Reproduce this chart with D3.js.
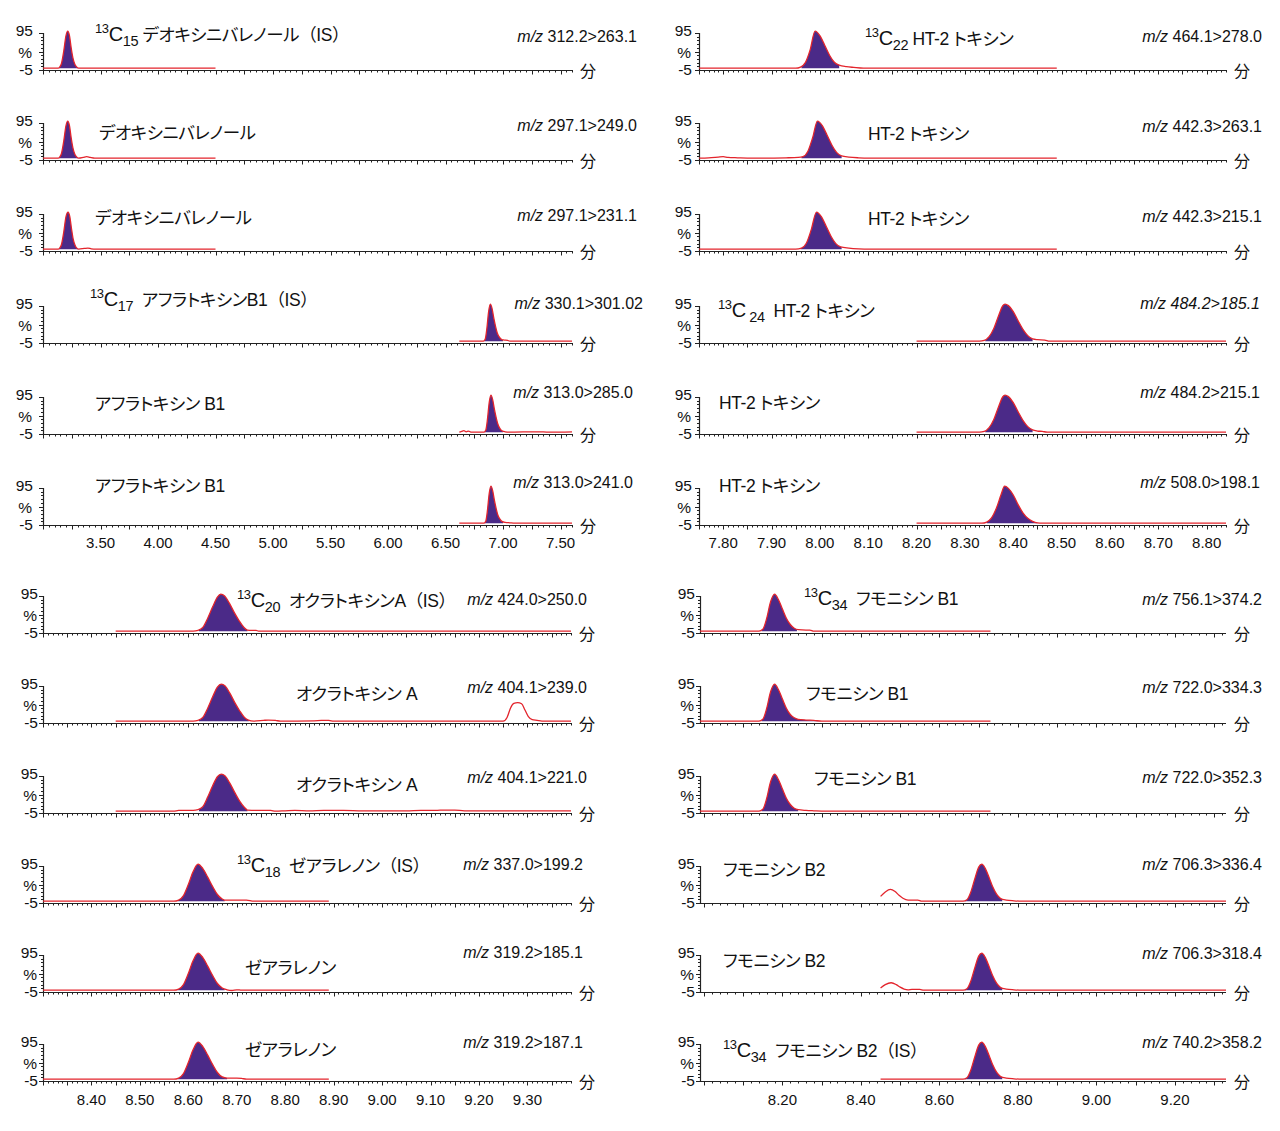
<!DOCTYPE html>
<html><head><meta charset="utf-8">
<script src="https://cdn.jsdelivr.net/npm/d3@7"></script>
<style>
body{margin:0;background:#fff;}
svg{display:block;font-family:"Liberation Sans",Arial,"Noto Sans CJK JP",sans-serif;}
text{white-space:pre;}
.nm{font-feature-settings:"palt";letter-spacing:-0.4px;}
.fw{font-feature-settings:normal;}
</style></head><body>
<svg id="c" width="1280" height="1131"></svg>
<script>
// ================= DATA =================
const ticksTL = ["3.50","4.00","4.50","5.00","5.50","6.00","6.50","7.00","7.50"];
const ticksTR = ["7.80","7.90","8.00","8.10","8.20","8.30","8.40","8.50","8.60","8.70","8.80"];
const ticksBL = ["8.40","8.50","8.60","8.70","8.80","8.90","9.00","9.10","9.20","9.30"];
const ticksBR = ["8.20","8.40","8.60","8.80","9.00","9.20"];
const yTickLabels = ["95","%","-5"];
const yTickValues = [95, 45, -5];
const timeUnit = "分";

const namesTL = ["^{13}C_{15} デオキシニバレノール（IS）","デオキシニバレノール","デオキシニバレノール","^{13}C_{17}  アフラトキシンB1（IS）","アフラトキシン B1","アフラトキシン B1"];
const mzTL = ["312.2>263.1","297.1>249.0","297.1>231.1","330.1>301.02","313.0>285.0","313.0>241.0"];
const namesTR = ["^{13}C_{22} HT-2 トキシン","HT-2 トキシン","HT-2 トキシン","^{13}C_{ 24}  HT-2 トキシン","HT-2 トキシン","HT-2 トキシン"];
const mzTR = ["464.1>278.0","442.3>263.1","442.3>215.1","484.2>185.1","484.2>215.1","508.0>198.1"];
const namesBL = ["^{13}C_{20}  オクラトキシンA（IS）","オクラトキシン A","オクラトキシン A","^{13}C_{18}  ゼアラレノン（IS）","ゼアラレノン","ゼアラレノン"];
const mzBL = ["424.0>250.0","404.1>239.0","404.1>221.0","337.0>199.2","319.2>185.1","319.2>187.1"];
const namesBR = ["^{13}C_{34}  フモニシン B1","フモニシン B1","フモニシン B1","フモニシン B2","フモニシン B2","^{13}C_{34}  フモニシン B2（IS）"];
const mzBR = ["756.1>374.2","722.0>334.3","722.0>352.3","706.3>336.4","706.3>318.4","740.2>358.2"];

// traces: [time (min), intensity (%)]
const trDON13 = [[3.00,0],[3.13,0],[3.145,3],[3.16,12],[3.18,45],[3.20,88],[3.215,100],[3.23,88],[3.245,55],[3.26,28],[3.275,12],[3.29,4],[3.31,0],[4.50,0]];
const trDONa  = [[3.00,0],[3.13,0],[3.145,3],[3.16,12],[3.18,45],[3.20,88],[3.215,100],[3.23,88],[3.245,55],[3.26,28],[3.275,12],[3.29,4],[3.31,0],[3.35,2],[3.38,4],[3.41,2],[3.45,0],[4.50,0]];
const trDONb  = [[3.00,0],[3.13,0],[3.145,3],[3.16,12],[3.18,45],[3.20,88],[3.218,100],[3.233,88],[3.248,55],[3.262,28],[3.277,12],[3.29,4],[3.31,0],[3.36,2],[3.39,3],[3.42,1],[3.46,0],[4.50,0]];
const trAFB13 = [[6.62,0],[6.83,0],[6.845,5],[6.86,35],[6.875,80],[6.89,100],[6.905,88],[6.92,62],[6.935,40],[6.95,22],[6.97,10],[6.99,4],[7.01,3],[7.04,2],[7.06,0],[7.60,0]];
const trAFBa  = [[6.62,0],[6.64,2],[6.66,4],[6.68,1],[6.70,3],[6.72,0],[6.835,0],[6.85,5],[6.865,35],[6.88,80],[6.895,100],[6.91,88],[6.925,62],[6.94,40],[6.955,22],[6.975,9],[6.995,3],[7.02,1],[7.05,0],[7.30,1],[7.40,0],[7.60,1]];
const trAFBb  = [[6.62,0],[6.835,0],[6.85,5],[6.865,35],[6.88,80],[6.895,100],[6.91,88],[6.925,62],[6.94,40],[6.955,22],[6.975,10],[6.995,4],[7.02,2],[7.06,1],[7.10,0],[7.60,0]];

const trHT13a = [[7.75,0],[7.95,0],[7.96,3],[7.97,15],[7.98,50],[7.99,100],[8.00,88],[8.01,62],[8.02,35],[8.03,16],[8.04,8],[8.055,4],[8.07,2],[8.09,0],[8.49,0]];
const trHTa   = [[7.75,0],[7.77,1],[7.79,3],[7.80,4],[7.81,2],[7.83,1],[7.86,0],[7.93,1],[7.955,2],[7.965,4],[7.975,18],[7.985,55],[7.995,100],[8.005,88],[8.015,62],[8.025,35],[8.035,15],[8.045,6],[8.06,3],[8.08,1],[8.10,0],[8.49,0]];
const trHTb   = [[7.75,0],[7.95,0],[7.962,3],[7.972,16],[7.982,52],[7.993,100],[8.003,88],[8.013,62],[8.023,35],[8.033,15],[8.043,6],[8.06,3],[8.08,1],[8.10,0],[8.49,0]];
const trHT13b = [[8.20,0],[8.33,0],[8.34,2],[8.35,12],[8.36,35],[8.37,70],[8.378,95],[8.383,100],[8.39,96],[8.40,80],[8.41,55],[8.42,32],[8.43,15],[8.44,6],[8.45,4],[8.465,3],[8.475,0],[8.84,0]];
const trHTc   = [[8.20,0],[8.33,0],[8.34,2],[8.35,12],[8.36,35],[8.37,70],[8.378,95],[8.383,100],[8.39,96],[8.40,80],[8.41,55],[8.42,32],[8.43,15],[8.44,6],[8.45,3],[8.46,2],[8.47,0],[8.84,0]];
const trHTd   = [[8.20,0],[8.335,0],[8.345,3],[8.355,14],[8.365,40],[8.375,78],[8.382,100],[8.39,94],[8.40,76],[8.41,50],[8.42,28],[8.43,13],[8.44,5],[8.45,1],[8.46,0],[8.84,0]];

const trOTA13 = [[8.45,0],[8.61,0],[8.62,2],[8.63,10],[8.64,35],[8.65,65],[8.66,92],[8.667,100],[8.675,95],[8.685,75],[8.695,50],[8.705,28],[8.715,10],[8.722,3],[8.73,2],[8.74,2],[8.745,0],[9.39,0]];
const trOTAa  = [[8.45,0],[8.61,0],[8.62,2],[8.63,10],[8.64,35],[8.65,65],[8.66,92],[8.668,100],[8.676,95],[8.686,75],[8.696,50],[8.706,28],[8.716,10],[8.724,3],[8.735,0],[8.755,2],[8.765,3],[8.78,2],[8.79,0],[8.86,1],[8.875,2],[8.89,2],[8.90,0],[9.25,0],[9.258,10],[9.265,35],[9.272,48],[9.28,50],[9.288,47],[9.295,30],[9.302,12],[9.31,4],[9.32,2],[9.33,0],[9.39,0]];
const trOTAb  = [[8.45,0],[8.57,0],[8.58,2],[8.61,2],[8.62,4],[8.63,12],[8.64,38],[8.65,68],[8.66,93],[8.668,100],[8.676,95],[8.686,75],[8.696,50],[8.706,27],[8.716,10],[8.722,3],[8.74,2],[8.77,2],[8.78,0],[8.80,1],[8.82,2],[8.85,1],[8.88,2],[8.92,2],[8.96,1],[9.00,1],[9.05,1],[9.08,2],[9.11,2],[9.13,3],[9.15,3],[9.17,1],[9.22,1],[9.26,1],[9.39,1]];
const trZEN13 = [[8.30,0],[8.57,0],[8.58,3],[8.59,15],[8.60,45],[8.61,80],[8.62,100],[8.63,88],[8.64,65],[8.65,40],[8.66,18],[8.67,6],[8.675,3],[8.70,3],[8.72,3],[8.735,0],[8.89,0]];
const trZENa  = [[8.30,0],[8.57,0],[8.58,3],[8.59,15],[8.60,45],[8.61,80],[8.62,100],[8.63,88],[8.64,65],[8.65,40],[8.66,18],[8.67,6],[8.68,1],[8.69,-1],[8.70,1],[8.71,0],[8.89,0]];
const trZENb  = [[8.30,0],[8.57,0],[8.58,3],[8.59,15],[8.60,45],[8.61,80],[8.62,100],[8.63,88],[8.64,65],[8.65,40],[8.66,18],[8.67,6],[8.68,3],[8.70,3],[8.71,2],[8.72,0],[8.89,0]];

const trFB13  = [[7.99,0],[8.14,0],[8.15,5],[8.16,35],[8.17,80],[8.18,100],[8.19,85],[8.20,60],[8.21,35],[8.22,18],[8.23,8],[8.24,4],[8.26,3],[8.27,3],[8.28,0],[8.73,0]];
const trFB1a  = [[7.99,0],[8.14,0],[8.15,5],[8.16,35],[8.17,80],[8.18,100],[8.19,85],[8.20,60],[8.21,35],[8.22,18],[8.23,9],[8.24,5],[8.26,3],[8.28,2],[8.30,0],[8.73,0]];
const trFB1b  = [[7.99,0],[8.14,0],[8.15,5],[8.16,35],[8.17,80],[8.18,100],[8.19,85],[8.20,60],[8.21,35],[8.22,18],[8.23,8],[8.24,4],[8.26,2],[8.28,1],[8.31,0],[8.73,0]];
const trFB2a  = [[8.45,13],[8.462,25],[8.475,32],[8.487,26],[8.497,16],[8.507,8],[8.52,3],[8.53,3],[8.545,3],[8.555,0],[8.66,0],[8.67,4],[8.68,25],[8.69,60],[8.70,92],[8.708,100],[8.716,90],[8.726,65],[8.736,38],[8.746,18],[8.756,7],[8.77,3],[8.79,1],[8.81,0],[9.33,0]];
const trFB2b  = [[8.45,6],[8.462,15],[8.477,20],[8.49,15],[8.50,8],[8.51,3],[8.52,1],[8.53,2],[8.55,2],[8.56,0],[8.66,0],[8.67,4],[8.68,25],[8.69,60],[8.70,92],[8.708,100],[8.716,90],[8.726,65],[8.736,38],[8.746,18],[8.756,7],[8.77,3],[8.79,1],[8.81,0],[9.33,0]];
const trFB213 = [[8.45,0],[8.66,0],[8.67,4],[8.68,25],[8.69,60],[8.70,92],[8.708,100],[8.716,90],[8.726,65],[8.736,38],[8.746,18],[8.756,7],[8.77,3],[8.79,1],[8.81,0],[9.33,0]];

// integrated (filled) ranges for each trace
const fillTL = [[3.135,3.31],[3.135,3.31],[3.135,3.31],[6.84,7.00],[6.84,7.00],[6.84,7.00]];
const fillTR = [[7.962,8.04],[7.962,8.045],[7.96,8.045],[8.342,8.44],[8.342,8.44],[8.345,8.45]];
const fillBL = [[8.622,8.722],[8.622,8.725],[8.622,8.722],[8.578,8.675],[8.578,8.675],[8.578,8.68]];
const fillBR = [[8.147,8.237],[8.147,8.30],[8.147,8.24],[8.665,8.76],[8.665,8.76],[8.665,8.76]];

// ================= LAYOUT =================
const panels = [
  {x0:43, x1:572, domain:[3.0,7.6], rows:[70,160,251,343,434,525], ticks:ticksTL, major:0.25, minor:0.05, tickY:548, ygap:10,
   names:namesTL, mz:mzTL, traces:[trDON13,trDONa,trDONb,trAFB13,trAFBa,trAFBb], fills:fillTL,
   nameXY:[[95,41],[99,139],[95,224],[90,306],[95,410],[95,492]], mzXY:[[637,42],[637,131],[637,221],[643,309],[633,398],[633,488]], mzItal:[0,0,0,0,0,0]},
  {x0:699, x1:1226, domain:[7.75,8.84], rows:[70,160,251,343,434,525], ticks:ticksTR, major:0.05, minor:0.01, tickY:548, ygap:7,
   names:namesTR, mz:mzTR, traces:[trHT13a,trHTa,trHTb,trHT13b,trHTc,trHTd], fills:fillTR,
   nameXY:[[865,45],[868,140],[868,225],[718,317],[719,409],[719,492]], mzXY:[[1262,42],[1262,132],[1262,222],[1260,309],[1260,398],[1260,488]], mzItal:[0,0,0,1,0,0]},
  {x0:43, x1:571, domain:[8.30,9.39], rows:[633,723,813,903,992,1081], ticks:ticksBL, major:0.05, minor:0.01, tickY:1105, ygap:5,
   names:namesBL, mz:mzBL, traces:[trOTA13,trOTAa,trOTAb,trZEN13,trZENa,trZENb], fills:fillBL,
   nameXY:[[237,607],[296,700],[296,791],[237,872],[245,974],[245,1056]], mzXY:[[587,605],[587,693],[587,783],[583,870],[583,958],[583,1048]], mzItal:[0,0,0,0,0,0]},
  {x0:700, x1:1226, domain:[7.99,9.33], rows:[633,723,813,903,992,1081], ticks:ticksBR, major:0.1, minor:0.02, tickY:1105, ygap:5,
   names:namesBR, mz:mzBR, traces:[trFB13,trFB1a,trFB1b,trFB2a,trFB2b,trFB213], fills:fillBR,
   nameXY:[[804,605],[806,700],[814,785],[723,876],[723,967],[723,1057]], mzXY:[[1262,605],[1262,693],[1262,783],[1262,870],[1262,959],[1262,1048]], mzItal:[0,0,0,0,0,0]}
];
const PURPLE = "#4b2a88", RED = "#e3242c", AXIS = "#222";
const yPix = 37; // pixels per 100 %
const NAME_FS = 17.5;

const svg = d3.select("#c");
const defs = svg.append("defs");
let clipId = 0;

function addPlain(t, txt, dy, size) {
  // full-width brackets keep their normal (wide) metrics
  const parts = txt.split(/([（）])/).filter(s => s.length);
  parts.forEach((s, i) => {
    const sp = t.append("tspan").attr("font-size", size).text(s);
    if (i === 0) sp.attr("dy", dy);
    if (s === "（" || s === "）") sp.attr("class", "fw");
  });
}

function drawName(g, str, x, y) {
  const t = g.append("text").attr("class", "nm").attr("x", x).attr("y", y).attr("font-size", NAME_FS).attr("fill", "#111");
  const re = /\^\{([^}]*)\}|_\{([^}]*)\}|([^^_]+)/g;
  let m, cur = 0, afterSup = false;
  while ((m = re.exec(str))) {
    if (m[1] !== undefined) {
      t.append("tspan").attr("dy", -8 - cur).attr("font-size", 13).text(m[1]); cur = -8; afterSup = true;
    } else if (m[2] !== undefined) {
      t.append("tspan").attr("dy", 5 - cur).attr("font-size", 14.5).text(m[2]); cur = 5;
    } else {
      let txt = m[3];
      if (afterSup) { // the "C" of the isotope label
        t.append("tspan").attr("dy", 0 - cur).attr("font-size", 20).text(txt[0]);
        cur = 0; afterSup = false; txt = txt.slice(1);
        if (!txt) continue;
      }
      addPlain(t, txt, 0 - cur, NAME_FS);
      cur = 0;
    }
  }
}

panels.forEach(p => {
  const x = d3.scaleLinear().domain(p.domain).range([p.x0, p.x1]);
  const n0 = Math.ceil(p.domain[0] / p.minor - 1e-6), n1 = Math.floor(p.domain[1] / p.minor + 1e-6);
  const minorTicks = d3.range(n0, n1 + 1).map(i => i * p.minor);
  p.rows.forEach((ay, r) => {
    const y = d3.scaleLinear().domain([-5, 95]).range([ay, ay - yPix]);
    const g = svg.append("g");
    // x axis
    g.append("line").attr("x1", p.x0).attr("x2", p.x1).attr("y1", ay + 0.5).attr("y2", ay + 0.5).attr("stroke", AXIS).attr("stroke-width", 1.2);
    minorTicks.forEach(v => {
      const isMajor = Math.abs(v / p.major - Math.round(v / p.major)) < 1e-6;
      const xx = Math.round(x(v)) + 0.5;
      g.append("line").attr("x1", xx).attr("x2", xx).attr("y1", ay).attr("y2", ay + (isMajor ? 4.5 : 2.5)).attr("stroke", AXIS).attr("stroke-width", 1);
    });
    // y axis
    g.append("line").attr("x1", p.x0 + 0.5).attr("x2", p.x0 + 0.5).attr("y1", y(95)).attr("y2", ay + 1).attr("stroke", AXIS).attr("stroke-width", 1.2);
    d3.range(-5, 96, 10).forEach(v => {
      const major = (v === 95 || v === -5 || v === 45);
      const yy = Math.round(y(v)) + 0.5;
      g.append("line").attr("x1", p.x0 - (major ? 4 : 2)).attr("x2", p.x0).attr("y1", yy).attr("y2", yy).attr("stroke", AXIS).attr("stroke-width", 1);
    });
    yTickLabels.forEach((lab, i) => {
      const v = yTickValues[i];
      let yy;
      if (lab === "%") yy = (y(95) + y(-5)) / 2 + 6;
      else if (v === 95) yy = y(v) + 3;
      else yy = y(v) + 5;
      g.append("text").attr("x", p.x0 - p.ygap - (lab === "%" ? 1 : 0)).attr("y", yy).attr("text-anchor", "end")
        .attr("font-size", 15.5).attr("fill", "#111").text(lab);
    });
    g.append("text").attr("x", p.x1 + 8).attr("y", ay + 7).attr("font-size", 16).attr("fill", "#111").text(timeUnit);

    // trace
    const data = p.traces[r];
    const f = p.fills[r];
    const id = "clip" + (clipId++);
    defs.append("clipPath").attr("id", id).append("rect")
      .attr("x", x(f[0])).attr("y", ay - 60).attr("width", x(f[1]) - x(f[0])).attr("height", 60);
    const area = d3.area().x(d => x(d[0])).y0(y(0)).y1(d => y(d[1])).curve(d3.curveMonotoneX);
    g.append("path").datum(data).attr("d", area).attr("fill", PURPLE).attr("clip-path", `url(#${id})`);
    const line = d3.line().x(d => x(d[0])).y(d => y(d[1])).curve(d3.curveMonotoneX);
    g.append("path").datum(data).attr("d", line).attr("fill", "none").attr("stroke", RED).attr("stroke-width", 1.3);

    // labels
    drawName(g, p.names[r], p.nameXY[r][0], p.nameXY[r][1]);
    const mt = g.append("text").attr("x", p.mzXY[r][0]).attr("y", p.mzXY[r][1]).attr("text-anchor", "end")
      .attr("font-size", 16).attr("fill", "#111");
    mt.append("tspan").attr("font-style", "italic").text("m/z");
    mt.append("tspan").attr("font-style", p.mzItal[r] ? "italic" : "normal").text(" " + p.mz[r]);
  });
  // tick labels under last row
  const g = svg.append("g");
  p.ticks.forEach(t => {
    g.append("text").attr("x", x(+t)).attr("y", p.tickY).attr("text-anchor", "middle").attr("font-size", 15).attr("fill", "#111").text(t);
  });
});
</script>
</body></html>
